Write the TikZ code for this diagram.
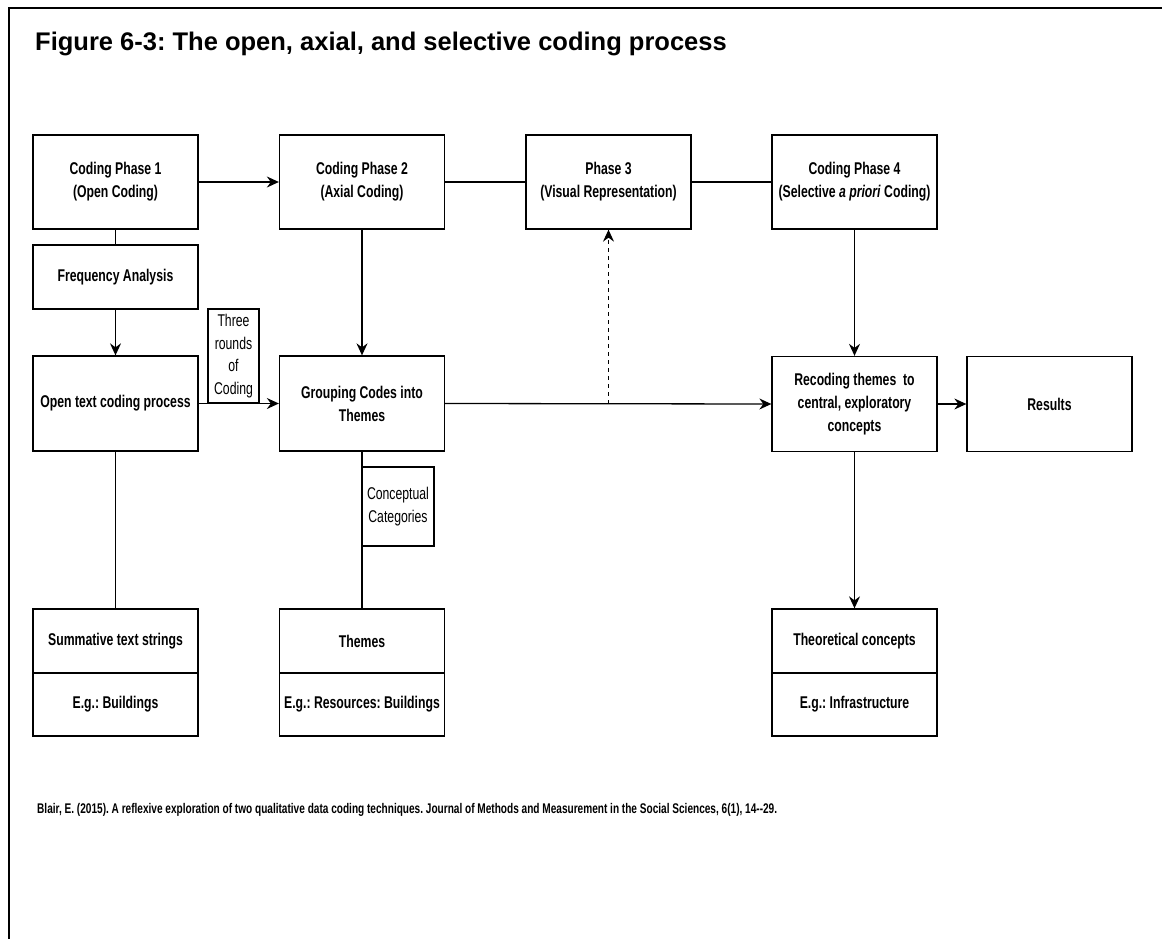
\documentclass[tikz,border=0pt]{standalone}
\usepackage{fontspec}
\setmainfont{Liberation Sans}
\newfontfamily\narrowfont[FakeStretch=0.72]{Liberation Sans}
\usetikzlibrary{arrows.meta}
\frenchspacing

\tikzset{
  box/.style={draw, line width=1.3pt, rectangle, inner sep=2pt, align=center,
    minimum width=165pt, font=\narrowfont\bfseries\fontsize{17}{23}\selectfont},
  note/.style={draw, line width=1.3pt, rectangle, inner sep=1pt, align=center,
    font=\narrowfont\fontsize{17}{22.7}\selectfont},
  link/.style={line width=1.3pt},
  flow/.style={line width=1.3pt, -{Stealth[length=12pt,width=11pt,inset=4pt]}},
  hint/.style={line width=1.1pt, dash pattern=on 4pt off 4pt,
    -{Stealth[length=12pt,width=11pt,inset=4pt]}},
}

\begin{document}
\begin{tikzpicture}[x=1pt, y=-1pt]
\useasboundingbox (0,0) rectangle (1162,939);

% page frame
\draw[line width=2.4pt] (9,939) -- (9,8) -- (1162,8);

% heading
\node[anchor=base west, inner sep=0pt, font=\bfseries\fontsize{25.5}{29}\selectfont]
  (title) at (35,51) {Figure 6-3: The open, axial, and selective coding process};

% top row: the four phases
\node[box, minimum height=94pt] (cp1) at (115.5,182) {Coding Phase 1\\(Open Coding)};
\node[box, minimum height=94pt] (cp2) at (362,182) {Coding Phase 2\\(Axial Coding)};
\node[box, minimum height=94pt] (ph3) at (608.5,182) {Phase 3\\(Visual Representation)};
\node[box, minimum height=94pt] (cp4) at (854.5,182) {Coding Phase 4\\(Selective \textit{a priori} Coding)};

% intermediate steps
\node[box, minimum height=64pt] (freq) at (115.5,277) {Frequency Analysis};
\node[box, minimum height=95pt] (open) at (115.5,403.5) {Open text coding process};
\node[box, minimum height=95pt] (group) at (362,403.5) {Grouping Codes into\\Themes};
\node[box, minimum height=95pt] (recode) at (854.5,404) {Recoding themes\ \ to\\central, exploratory\\concepts};
\node[box, minimum height=95pt] (results) at (1049.5,404) {Results};

% outcome boxes (label over example)
\node[box, minimum height=64pt] (summ) at (115.5,641) {Summative text strings};
\node[box, minimum height=63pt] (summex) at (115.5,704.5) {E.g.: Buildings};
\node[box, minimum height=64pt] (themes) at (362,641) {Themes};
\node[box, minimum height=63pt] (themesex) at (362,704.5) {E.g.: Resources: Buildings};
\node[box, minimum height=64pt] (theo) at (854.5,641) {Theoretical concepts};
\node[box, minimum height=63pt] (theoex) at (854.5,704.5) {E.g.: Infrastructure};

% connector labels
\node[note, minimum width=51pt, minimum height=94pt] (three) at (233.5,356) {Three\\rounds\\of\\Coding};
\node[note, minimum width=72pt, minimum height=79pt] (concept) at (398,506.5) {Conceptual\\Categories};

% connectors
\draw[flow] (cp1.east) -- (cp2.west);
\draw[link] (cp2.east) -- (ph3.west);
\draw[link] (ph3.east) -- (cp4.west);
\draw[link] (cp1.south) -- (freq.north);
\draw[flow] (freq.south) -- (open.north);
\draw[flow] (open.east) -- (group.west);
\draw[flow] (cp2.south) -- (group.north);
\draw[flow] (group.east) -- (recode.west);
\coordinate (branch) at (ph3.south |- group.east);
\draw[hint] (branch) -- (ph3.south);
\draw[flow] (cp4.south) -- (recode.north);
\draw[flow] (recode.east) -- (results.west);
\draw[flow] (recode.south) -- (theo.north);
\draw[link] (open.south) -- (summ.north);
\draw[link] (group.south) -- (themes.north);

% reference
\node[anchor=west, inner sep=0pt, font=\narrowfont\bfseries\fontsize{14}{17}\selectfont]
  (cite) at (37,810) {Blair, E. (2015). A reflexive exploration of two qualitative data coding techniques. Journal of Methods and Measurement in the Social Sciences, 6(1), 14--29.};
\end{tikzpicture}
\end{document}
